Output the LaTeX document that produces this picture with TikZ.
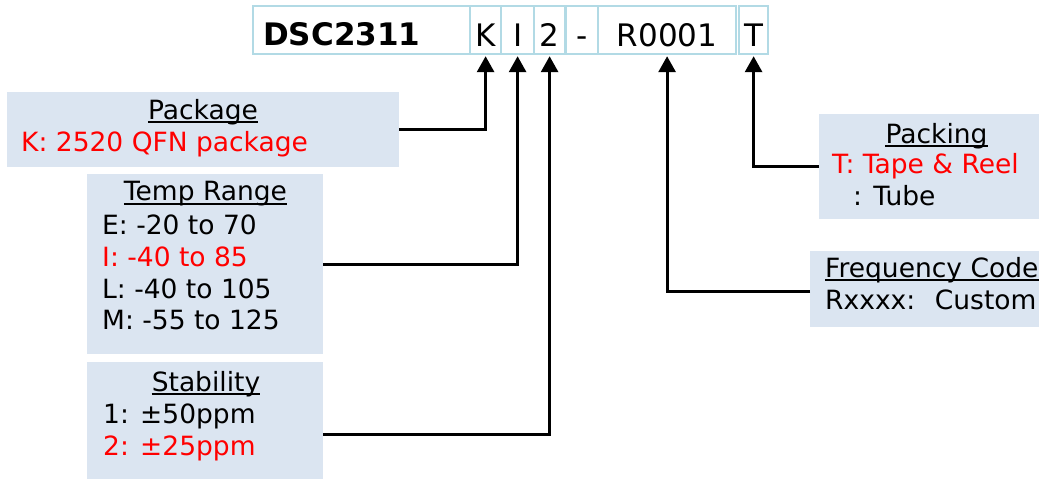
\documentclass[tikz,border=0pt]{standalone}
\usepackage{fontspec}
\setmainfont{DejaVu Sans}
\usetikzlibrary{arrows.meta}
\definecolor{boxfill}{HTML}{DBE5F1}
\definecolor{cellline}{HTML}{B2DAE5}
\definecolor{redtext}{HTML}{FF0000}
\begin{document}
\begin{tikzpicture}[x=1pt,y=-1pt,
  cell/.style={draw=cellline, line width=2.2pt, inner sep=0pt, anchor=north west,
    minimum height=48pt, text height=40pt, text depth=8pt, font=\fontsize{31}{36}\selectfont},
  infobox/.style={fill=boxfill, inner sep=0pt, anchor=north west},
  txt/.style={inner sep=0pt, font=\fontsize{26.5}{32}\selectfont},
  redt/.style={txt, text=redtext},
  uline/.style={line width=2pt},
  conn/.style={line width=3pt, -{Triangle[length=16pt,width=17pt]}, shorten >=1pt}]
\useasboundingbox (0,0) rectangle (1039,479);
% part number cells
\node[cell, minimum width=217pt] (cMain) at (252,5) {};
\node[inner sep=0pt, anchor=base west, font=\fontsize{31}{36}\selectfont\bfseries] (tMain) at (263,45) {DSC2311};
\node[cell, minimum width=31pt] (cK) at (469,5) {K};
\node[cell, minimum width=33pt] (cI) at (500,5) {I};
\node[cell, minimum width=31pt] (c2) at (533,5) {2};
\node[cell, minimum width=32pt] (cDash) at (565,5) {-};
\node[cell, minimum width=138pt] (cR) at (597,5) {R0001};
\node[cell, minimum width=29pt] (cT) at (738,5) {T};
% info boxes
\node[infobox, minimum width=392pt, minimum height=75pt] (pkg) at (7,92) {};
\node[infobox, minimum width=236pt, minimum height=180pt] (temp) at (87,174) {};
\node[infobox, minimum width=236pt, minimum height=117pt] (stab) at (87,362) {};
\node[infobox, minimum width=220pt, minimum height=105pt] (pack) at (819,114) {};
\node[infobox, minimum width=229pt, minimum height=76pt] (freq) at (810,251) {};
% Package
\node[txt, anchor=base] (pkgT) at (203,119) {Package};
\draw[uline] ([yshift=-3pt]pkgT.base west) -- ([yshift=-3pt]pkgT.base east);
\node[redt, anchor=base west] (pkgK) at (21,151) {K: 2520 QFN package};
% Temp range
\node[txt, anchor=base] (tempT) at (205.5,200.7) {Temp Range};
\draw[uline] ([yshift=-3pt]tempT.base west) -- ([yshift=-3pt]tempT.base east);
\node[txt, anchor=base west] (tE) at (102,234) {E: -20 to 70};
\node[redt, anchor=base west] (tI) at (102,266) {I: -40 to 85};
\node[txt, anchor=base west] (tL) at (102,298) {L: -40 to 105};
\node[txt, anchor=base west] (tM) at (102,329) {M: -55 to 125};
% Stability
\node[txt, anchor=base] (stabT) at (206,391) {Stability};
\draw[uline] ([yshift=-3pt]stabT.base west) -- ([yshift=-3pt]stabT.base east);
\node[txt, anchor=base west] (s1) at (103,423) {1: ±50ppm};
\node[redt, anchor=base west] (s2) at (103,455) {2: ±25ppm};
% Packing
\node[txt, anchor=base] (packT) at (936.5,143) {Packing};
\draw[uline] ([yshift=-3pt]packT.base west) -- ([yshift=-3pt]packT.base east);
\node[redt, anchor=base west] (pT) at (832,173) {T: Tape \& Reel};
\node[txt, anchor=base west] (pTube) at (853,205) {: Tube};
% Frequency code
\node[txt, anchor=base west] (freqT) at (825,277) {Frequency Code};
\draw[uline] ([yshift=-3pt]freqT.base west) -- ([yshift=-3pt]freqT.base east);
\node[txt, anchor=base west] (freqR) at (825,309) {Rxxxx:~ Custom};
% connectors
\coordinate (stabc) at (stab.east |- 0,434);
\coordinate (freqc) at (freq.west |- 0,291);
\draw[conn] (pkg.east) -| (cK.south);
\draw[conn] (temp.east) -| (cI.south);
\draw[conn] (stabc) -| (c2.south);
\draw[conn] (freqc) -| (cR.south);
\draw[conn] (pack.west) -| (cT.south);
\end{tikzpicture}
\end{document}
